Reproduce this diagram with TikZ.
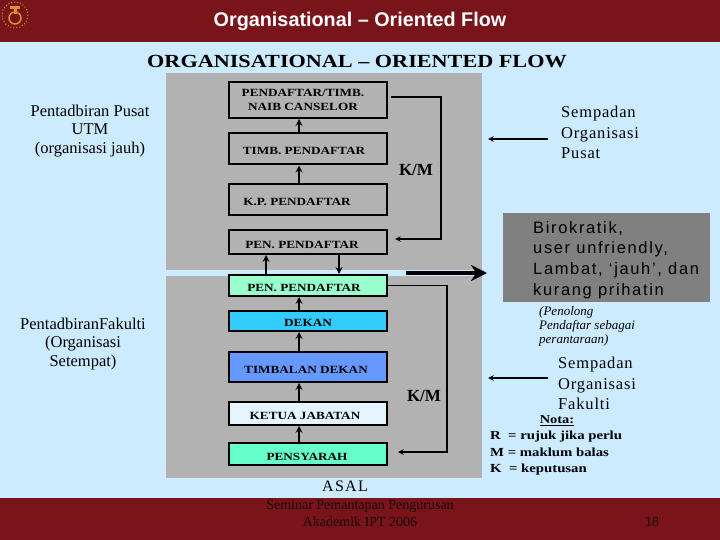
\documentclass[tikz,border=0pt]{standalone}
\usepackage{fontspec}
\setmainfont{Liberation Serif}
\newfontfamily\arialfont{Liberation Sans}
\newfontfamily\lebarfont{Liberation Serif}[FakeStretch=1.2]
\usetikzlibrary{positioning,arrows.meta}
\definecolor{merah}{HTML}{79141A}
\definecolor{langit}{HTML}{CCEBFF}
\definecolor{panel}{HTML}{B2B2B2}
\definecolor{kelabu}{HTML}{808080}
\definecolor{emas}{HTML}{D9902A}
\definecolor{hijaupen}{HTML}{99FFCC}
\definecolor{birudekan}{HTML}{33CCFF}
\definecolor{birutimbalan}{HTML}{6699FF}
\definecolor{putihketua}{HTML}{E5F5FF}
\definecolor{hijausyarah}{HTML}{66FFCC}
\tikzset{
  kotak/.style={draw=black, line width=2pt, minimum width=158pt, inner sep=0pt, font=\lebarfont\fontsize{11}{14}\selectfont\bfseries, align=center},
  sebaris/.style={kotak, text height=12pt, text depth=0pt},
  sisi/.style={inner sep=0pt, font=\fontsize{16.5}{18.5}\selectfont, align=center},
  sempadan/.style={inner sep=0pt, font=\fontsize{16.5}{20.4}\selectfont\addfontfeature{LetterSpace=5}, align=left},
  nota/.style={inner sep=0pt, font=\lebarfont\fontsize{12.3}{16.5}\selectfont\bfseries, align=left},
  naik/.style={-stealth, line width=2pt},
  garis/.style={-stealth, line width=1.5pt}
}

\begin{document}
\begin{tikzpicture}[x=1pt, y=-1pt]
  \useasboundingbox (0,0) rectangle (720,540);
  \fill[langit] (0,0) rectangle (720,540);
  \fill[merah] (0,0) rectangle (720,42);
  \fill[merah] (0,498) rectangle (720,540);
  \fill[panel] (166,73) rectangle (482,270);
  \fill[panel] (166,276) rectangle (482,478);

  % lambang
  \draw[emas, line width=1pt, dotted] (15,15) circle (13);
  \draw[emas, line width=1.5pt] (15,18) circle (6);
  \fill[emas] (10,6) rectangle (20,9);
  \fill[emas] (13.5,9) rectangle (16.5,14);

  \node[inner sep=0pt, text=white, font=\arialfont\fontsize{19.8}{20}\selectfont\bfseries] (tajuk) at (360,21) {Organisational – Oriented Flow};
  \node[inner sep=0pt, font=\lebarfont\fontsize{18.5}{20}\selectfont\bfseries] (judul) at (357,62) {ORGANISATIONAL – ORIENTED FLOW};

  % kotak
  \node[kotak, minimum height=36pt] (naib) at (308,100) {\hspace*{-10pt}PENDAFTAR/TIMB.\\\hspace*{-10pt}NAIB CANSELOR};
  \node[sebaris, minimum height=31.5pt, below=13pt of naib] (timb) {\hspace*{-8pt}TIMB. PENDAFTAR};
  \node[sebaris, minimum height=31pt, below=17.5pt of timb] (kp) {\hspace*{-22pt}K.P. PENDAFTAR};
  \node[sebaris, minimum height=24pt, below=13pt of kp] (pen) {\hspace*{-12pt}PEN. PENDAFTAR};
  \node[sebaris, fill=hijaupen, minimum height=21pt, below=19pt of pen] (penhijau) {\hspace*{-8pt}PEN. PENDAFTAR};
  \node[sebaris, fill=birudekan, minimum height=20.5pt, below=12.5pt of penhijau] (dekan) {DEKAN};
  \node[sebaris, fill=birutimbalan, minimum height=30pt, below=19pt of dekan] (timbalan) {\hspace*{-4pt}TIMBALAN DEKAN};
  \node[sebaris, fill=putihketua, minimum height=23pt, below=18pt of timbalan] (ketua) {\hspace*{-6pt}KETUA JABATAN};
  \node[sebaris, fill=hijausyarah, minimum height=22pt, below=16pt of ketua] (pensyarah) {\hspace*{-2pt}PENSYARAH};

  \foreach \bawah/\atas in {timb/naib, kp/timb, dekan/penhijau, timbalan/dekan, ketua/timbalan, pensyarah/ketua}
    \draw[naik] ([xshift=-9pt]\bawah.north) -- ([xshift=-9pt]\atas.south);
  \draw[naik] ([xshift=-42pt]penhijau.north) -- ([xshift=-42pt]pen.south);
  \draw[naik] ([xshift=31pt]pen.south) -- ([xshift=31pt]penhijau.north);

  % K/M
  \coordinate (tepia) at (441,170);
  \coordinate (tepib) at (447,370);
  \draw[garis] ([xshift=3pt,yshift=3pt]naib.east) -| (tepia) |- ([xshift=7pt,yshift=3pt]pen.east);
  \draw[garis] (penhijau.east) -| (tepib) |- ([xshift=10pt,yshift=2pt]pensyarah.east);
  \node[inner sep=0pt, font=\fontsize{17}{17}\selectfont\bfseries] (kmatas) at (416,170) {K/M};
  \node[inner sep=0pt, font=\fontsize{17}{17}\selectfont\bfseries] (kmbawah) at (424,396) {K/M};

  % label kiri
  \node[sisi] (pusat) at (90,131) {Pentadbiran Pusat\\UTM\\(organisasi jauh)};
  \node[sisi] (fakulti) at (83,344) {PentadbiranFakulti\\(Organisasi\\Setempat)};

  % label kanan
  \node[sempadan, anchor=north west] (sempadana) at (561,106) {Sempadan\\Organisasi\\Pusat};
  \node[sempadan, anchor=north west] (sempadanb) at (558,357) {Sempadan\\Organisasi\\Fakulti};
  \coordinate (mulaa) at (548,139);
  \coordinate (hujunga) at (488,139);
  \coordinate (mulab) at (548,378);
  \coordinate (hujungb) at (488,378);
  \draw[garis] (mulaa) -- (hujunga);
  \draw[garis] (mulab) -- (hujungb);

  \node[fill=kelabu, minimum width=207pt, minimum height=89pt, inner sep=0pt] (biro) at (606.5,257.5) {};
  \node[inner sep=0pt, anchor=west, align=left, font=\arialfont\fontsize{16.5}{20.6}\selectfont\addfontfeature{LetterSpace=10}] (birotext) at (533,260) {Birokratik,\\user unfriendly,\\Lambat, ‘jauh’, dan\\kurang prihatin};
  \coordinate (mulatebal) at (406,273);
  \coordinate (hujungtebal) at (487,273);
  \draw[-{Stealth[length=16pt,width=16pt]}, line width=4pt] (mulatebal) -- (hujungtebal);

  \node[inner sep=0pt, anchor=north west, align=left, font=\fontsize{13}{14}\selectfont\itshape] (penolong) at (539,306) {(Penolong\\Pendaftar sebagai\\perantaraan)};

  \node[inner sep=0pt, font=\lebarfont\fontsize{12}{14}\selectfont\bfseries] (nota) at (557,421) {\underline{Nota:}};
  \node[nota, anchor=north west] (rmk) at (490,431) {R\ \ = rujuk jika perlu\\M = maklum balas\\K\ \ = keputusan};

  \node[inner sep=0pt, font=\fontsize{16}{16}\selectfont\addfontfeature{LetterSpace=8}] (asal) at (345,486) {ASAL};

  % kaki
  \node[inner sep=0pt, align=center, text=black!80!merah, font=\fontsize{14}{17}\selectfont] (seminar) at (360,513) {Seminar Pemantapan Pengurusan\\Akademik IPT 2006};
  \node[inner sep=0pt, text=black!80!merah, font=\fontsize{14}{17}\selectfont] (halaman) at (652,522) {18};
\end{tikzpicture}
\end{document}
